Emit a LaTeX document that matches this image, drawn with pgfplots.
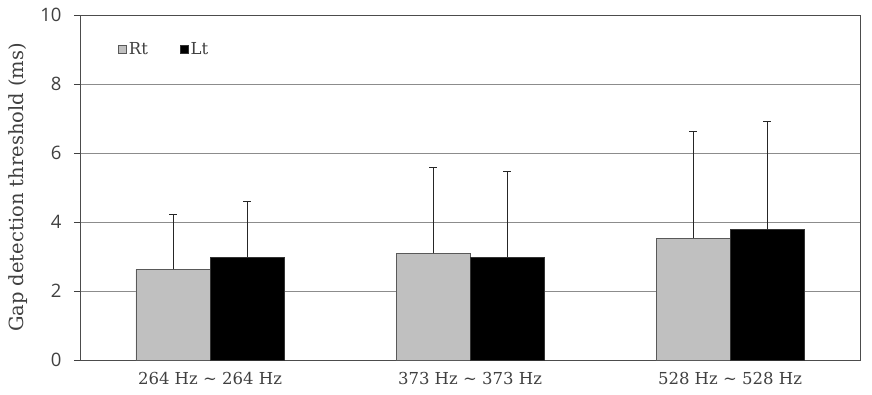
\documentclass[border=0pt]{standalone}
\usepackage{pgfplots}
\pgfplotsset{compat=1.18}
\usepackage{fontspec}
\setmainfont{DejaVu Serif}
\newfontfamily\tickfont{Open Sans}
\definecolor{txt}{HTML}{404040}
\definecolor{rt}{HTML}{C0C0C0}
\newcommand{\tl}{{\char"007E}}
\begin{document}
\begin{tikzpicture}
\begin{axis}[
  name=ax,
  scale only axis, width=780pt, height=345pt,
  xmin=-0.5, xmax=2.5, ymin=0, ymax=10,
  ybar=0pt, bar width=74pt,
  ytick={0,2,4,6,8,10},
  xtick={0,1,2},
  xticklabels={264 Hz \tl\ 264 Hz, 373 Hz \tl\ 373 Hz, 528 Hz \tl\ 528 Hz},
  xtick pos=lower, ytick pos=left,
  x tick style={draw=none},
  extra x ticks={-0.5,0.5,1.5,2.5},
  extra x tick labels={},
  extra x tick style={tick style={draw=black!75, line width=0.8pt}, major tick length=6pt, tick align=outside, xtick pos=lower},
  y tick style={draw=black!75, line width=0.8pt},
  major tick length=6pt,
  tick align=outside,
  ymajorgrids,
  grid style={color=black!45, line width=0.8pt},
  axis line style={color=black!70, line width=0.8pt},
  yticklabel style={font=\tickfont\fontsize{18.5}{18.5}\selectfont, color=txt, xshift=-9pt},
  /pgf/number format/assume math mode=true,
  xticklabel style={font=\fontsize{16.5}{16.5}\selectfont, color=txt, yshift=-3pt},
  legend columns=2,
  legend style={at={(0.045,0.9)}, anchor=west, draw=none, fill=none,
    font=\fontsize{16.5}{16.5}\selectfont, text=txt,
    /tikz/every even column/.append style={column sep=30pt}},
]
\addplot[fill=rt, draw=black!65, line width=0.6pt,
  legend image code/.code={\draw[fill=rt, draw=black!65, line width=0.6pt] (0pt,-4pt) rectangle (8pt,4pt);},
  error bars/.cd, y dir=plus, y explicit,
  error bar style={black!85, line width=0.8pt},
  error mark options={rotate=90, mark size=4pt, black!85, line width=0.8pt}]
  coordinates {(0,2.63) +- (0,1.59) (1,3.09) +- (0,2.49) (2,3.53) +- (0,3.09)};
\addlegendentry{Rt}
\addplot[fill=black, draw=black!80, line width=0.6pt,
  legend image code/.code={\draw[fill=black, draw=black!80, line width=0.6pt] (0pt,-4pt) rectangle (8pt,4pt);},
  error bars/.cd, y dir=plus, y explicit,
  error bar style={black!85, line width=0.8pt},
  error mark options={rotate=90, mark size=4pt, black!85, line width=0.8pt}]
  coordinates {(0,2.98) +- (0,1.62) (1,2.98) +- (0,2.48) (2,3.79) +- (0,3.12)};
\addlegendentry{Lt}
\end{axis}
\node[rotate=90, font=\fontsize{19.5}{19.5}\selectfont, text=txt] at ([xshift=-62pt]ax.west) {Gap detection threshold (ms)};
\path ([xshift=-80pt,yshift=15pt]ax.north west) -- ([xshift=12pt,yshift=-34pt]ax.south east);
\end{tikzpicture}
\end{document}
